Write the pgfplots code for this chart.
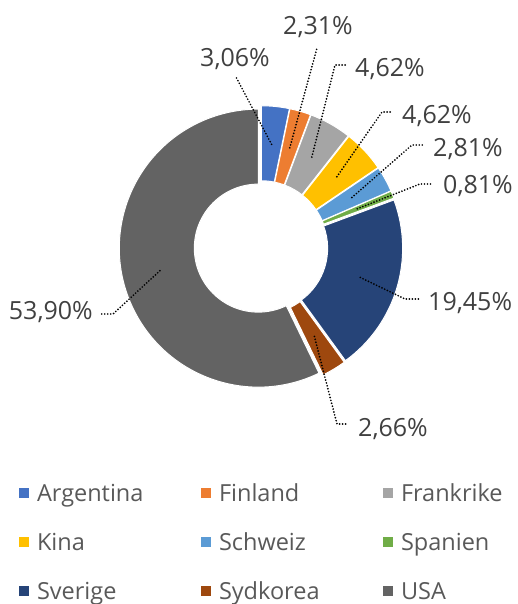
\documentclass[border=0pt]{standalone}
\usepackage{pgfplots}
\pgfplotsset{compat=1.18}
\usepackage{pgfplotstable}
\usepackage{fontspec}
\setmainfont{Open Sans}
\definecolor{cArg}{HTML}{4472C4}
\definecolor{cFin}{HTML}{ED7D31}
\definecolor{cFra}{HTML}{A5A5A5}
\definecolor{cKin}{HTML}{FFC000}
\definecolor{cSch}{HTML}{5B9BD5}
\definecolor{cSpa}{HTML}{70AD47}
\definecolor{cSve}{HTML}{264478}
\definecolor{cSyd}{HTML}{9E480E}
\definecolor{cUSA}{HTML}{636363}
\definecolor{labgray}{HTML}{404040}
\definecolor{leggray}{HTML}{595959}
\pgfkeys{/pgf/number format/.cd,fixed,fixed zerofill,precision=2,use comma,assume math mode=true}
\newcommand\labfont{\fontsize{25}{29}\selectfont}
\newcommand\legfont{\fontsize{23.5}{27}\selectfont}

% name, share (%), colour, leader-line knee (kx,ky), end (hx,hy), label base point (tx,ty), anchor
\pgfplotstableread{
name      value col  kx  ky  hx  hy  tx  ty    anc
Argentina 3.06  cArg 236 77  236 77  200 66.5  west
Finland   2.31  cFin 317 48  317 48  283 35    west
Frankrike 4.62  cFra 335 65  347 65  355 76.7  west
Kina      4.62  cKin 382 112 393 112 402 123.3 west
Schweiz   2.81  cSch 412 145 423 145 433 156.7 west
Spanien   0.81  cSpa 420 184 432 184 443 193.3 west
Sverige   19.45 cSve 405 299 420 299 428 310   west
Sydkorea  2.66  cSyd 337 424 348 424 358 436   west
USA       53.90 cUSA 113 314 100 314 93  319.3 east
}\shares

\def\cx{261}\def\cy{247.5}\def\Ro{139}\def\Ri{64}\def\Rm{101}\def\ex{2.75}
\gdef\total{0}
\pgfplotstableforeachcolumnelement{value}\of\shares\as\sV{\pgfmathsetmacro\tmp{\total+\sV}\xdef\total{\tmp}}

\newcommand\getrow[1]{%
  \pgfplotstablegetelem{#1}{value}\of\shares\xdef\sV{\pgfplotsretval}%
  \pgfplotstablegetelem{#1}{col}\of\shares\xdef\sC{\pgfplotsretval}%
  \pgfplotstablegetelem{#1}{name}\of\shares\xdef\sN{\pgfplotsretval}%
  \pgfplotstablegetelem{#1}{kx}\of\shares\xdef\sKx{\pgfplotsretval}%
  \pgfplotstablegetelem{#1}{ky}\of\shares\xdef\sKy{\pgfplotsretval}%
  \pgfplotstablegetelem{#1}{hx}\of\shares\xdef\sHx{\pgfplotsretval}%
  \pgfplotstablegetelem{#1}{hy}\of\shares\xdef\sHy{\pgfplotsretval}%
  \pgfplotstablegetelem{#1}{tx}\of\shares\xdef\sTx{\pgfplotsretval}%
  \pgfplotstablegetelem{#1}{ty}\of\shares\xdef\sTy{\pgfplotsretval}%
  \pgfplotstablegetelem{#1}{anc}\of\shares\xdef\sAnc{\pgfplotsretval}%
  \pgfmathsetmacro\sA{\cum/\total*360}%
  \pgfmathsetmacro\sB{(\cum+\sV)/\total*360}%
  \pgfmathsetmacro\sM{(\sA+\sB)/2}%
  \pgfmathsetmacro\ox{\cx+\ex*sin(\sM)}%
  \pgfmathsetmacro\oy{\cy-\ex*cos(\sM)}%
  \pgfmathsetmacro\pax{\ox+\Ro*sin(\sA)}%
  \pgfmathsetmacro\pay{\oy-\Ro*cos(\sA)}%
  \pgfmathsetmacro\qbx{\ox+\Ri*sin(\sB)}%
  \pgfmathsetmacro\qby{\oy-\Ri*cos(\sB)}%
  \pgfmathsetmacro\sSa{90-\sA}%
  \pgfmathsetmacro\sSb{90-\sB}%
  \pgfmathsetmacro\mx{\ox+\Rm*sin(\sM)}%
  \pgfmathsetmacro\my{\oy-\Rm*cos(\sM)}%
  \pgfmathsetmacro\tmp{\cum+\sV}\xdef\cum{\tmp}%
}

\begin{document}
\begin{tikzpicture}
\begin{axis}[x=1pt, y=1pt, xmin=0, xmax=518, ymin=0, ymax=604, y dir=reverse,
  hide axis, clip=false,
  legend columns=3,
  legend cell align=left,
  legend image code/.code={\fill[#1] (0pt,3.5pt) rectangle (10pt,13.5pt);},
  legend style={draw=none, fill=none, inner sep=0pt, outer sep=0pt,
    at={(axis cs:19,483)}, anchor=north west,
    font=\legfont, text=leggray, row sep=25pt,
    nodes={inner sep=0pt, text height=18pt, text depth=6pt, text width=140pt, align=left, anchor=base west},
    cells={anchor=base west},
    /tikz/every odd column/.append style={column sep=8pt},
    /tikz/every even column/.append style={column sep=24pt}},
]
\xdef\cum{0}
\pgfplotsinvokeforeach{0,...,8}{%
  \getrow{#1}%
  \edef\temp{\noexpand\fill[\sC, draw=white, line width=1pt] (axis cs:\pax,\pay) arc[start angle=\sSa, end angle=\sSb, radius=\Ro pt] -- (axis cs:\qbx,\qby) arc[start angle=\sSb, end angle=\sSa, radius=\Ri pt] -- cycle;%
    \noexpand\addlegendimage{fill=\sC, draw=none}\noexpand\addlegendentry{\sN}}%
  \temp
}
\xdef\cum{0}
\pgfplotsinvokeforeach{0,...,8}{%
  \getrow{#1}%
  \edef\temp{\noexpand\draw[black, line width=1.9pt, line cap=round, dash pattern=on 0pt off 3pt] (axis cs:\mx,\my) -- (axis cs:\sKx,\sKy) -- (axis cs:\sHx,\sHy);%
    \noexpand\node[anchor=base \sAnc, inner sep=0pt, text=labgray, font=\noexpand\labfont] at (axis cs:\sTx,\sTy) {\noexpand\pgfmathprintnumber{\sV}\noexpand\%};}%
  \temp
}
\end{axis}
\pgfresetboundingbox
\path (current axis.south west) rectangle (current axis.north east);
\end{tikzpicture}
\end{document}
